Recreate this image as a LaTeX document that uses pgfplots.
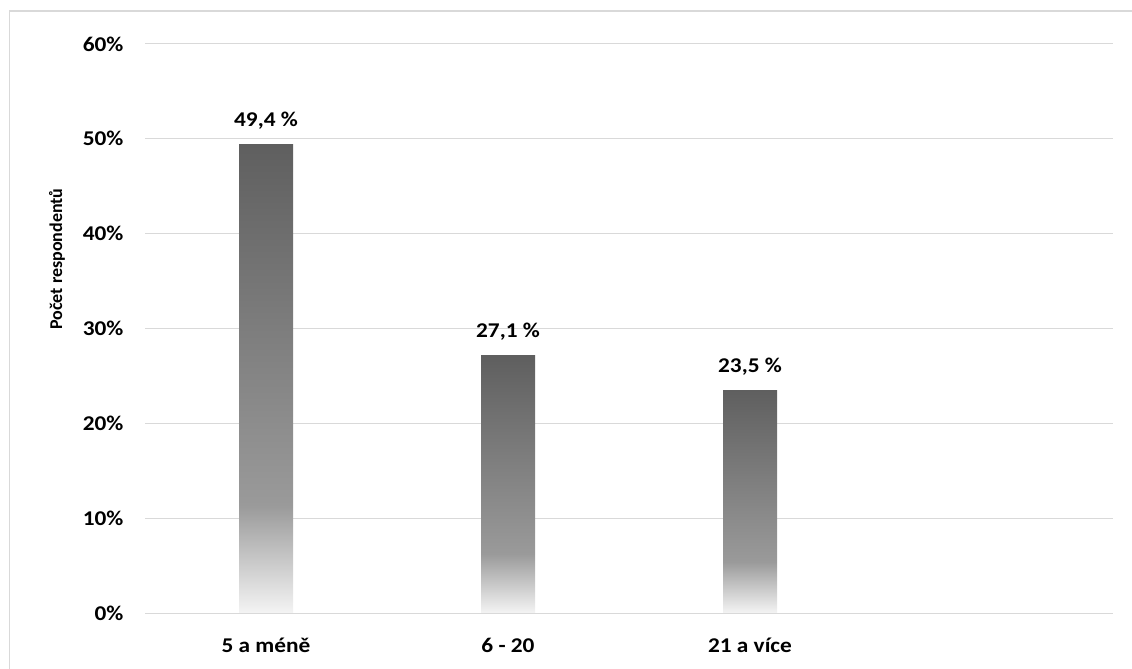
\documentclass[border=0pt]{standalone}
\usepackage{pgfplots}
\pgfplotsset{compat=1.18}
\usepackage{fontspec}
\setmainfont{Carlito}[FakeStretch=1.11]
\newfontfamily\labelfont{Carlito}
\definecolor{gridc}{HTML}{D9D9D9}
\definecolor{cbot}{HTML}{F4F4F4}
\definecolor{cmid}{HTML}{9A9A9A}
\definecolor{ctop}{HTML}{5F5F5F}
\pgfdeclareverticalshading{barshade}{100bp}{color(0bp)=(cbot); color(25bp)=(cbot); color(36.5bp)=(cmid); color(75bp)=(ctop); color(100bp)=(ctop)}
\pgfplotstableread{
x y label
0 49.4 {49,4 \%}
}\dataA
\pgfplotstableread{
x y label
1 27.1 {27,1 \%}
}\dataB
\pgfplotstableread{
x y label
2 23.5 {23,5 \%}
}\dataC
\begin{document}
\begin{tikzpicture}
\useasboundingbox (0,0) rectangle (1132bp,669bp);
\draw[gridc, line width=1.3bp] (9.5bp,-20bp) -- (9.5bp,658bp) -- (1150bp,658bp);
\begin{axis}[
  at={(145bp,56bp)}, anchor=south west,
  scale only axis, width=968bp, height=569bp,
  xmin=-0.5, xmax=3.5, ymin=0, ymax=60,
  xtick={0,1,2}, xticklabels={5 a méně, 6 - 20, 21 a více},
  ytick={0,10,...,60},
  yticklabel={\pgfmathprintnumber{\tick}\%},
  /pgf/number format/assume math mode=true,
  major tick length=0pt,
  axis line style={draw=none},
  ymajorgrids, grid style={gridc, line width=1bp},
  tick label style={font=\fontsize{21bp}{24bp}\selectfont\bfseries},
  yticklabel style={anchor=east, xshift=-18bp},
  xticklabel style={anchor=base, yshift=-39bp},
  ybar, bar width=54bp, bar shift=0pt,
  nodes near coords,
  point meta=explicit symbolic,
  nodes near coords style={anchor=base, yshift=18bp, font=\fontsize{21bp}{24bp}\selectfont\bfseries, inner sep=0pt},
  clip=false,
]
\addplot[draw=none, shading=barshade] table[x=x, y=y, meta=label] {\dataA};
\addplot[draw=none, shading=barshade] table[x=x, y=y, meta=label] {\dataB};
\addplot[draw=none, shading=barshade] table[x=x, y=y, meta=label] {\dataC};
\node[rotate=90, font=\labelfont\fontsize{18bp}{20bp}\selectfont\bfseries] at (rel axis cs:-0.0909,0.622) {Počet respondentů};
\end{axis}
\end{tikzpicture}
\end{document}
